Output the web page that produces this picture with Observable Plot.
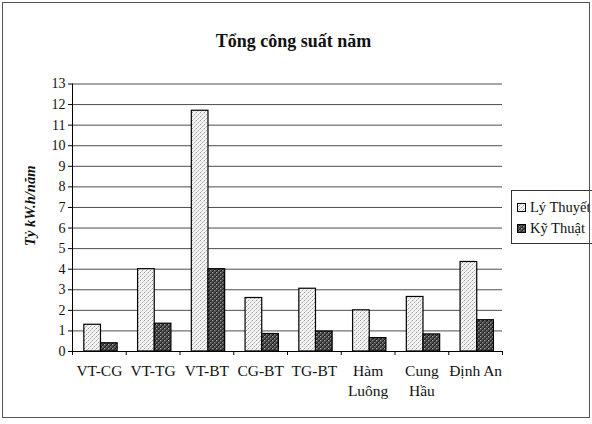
<!DOCTYPE html>
<html>
<head>
<meta charset="utf-8">
<script src="https://cdn.jsdelivr.net/npm/d3@7"></script>
<script src="https://cdn.jsdelivr.net/npm/@observablehq/plot@0.6"></script>
<style>
  html, body { margin: 0; padding: 0; background: #fff; }
  #wrap { position: relative; width: 592px; height: 424px; overflow: hidden; font-family: "Liberation Serif", serif; }
  #border { position: absolute; left: 2px; top: 2px; width: 586px; height: 414px; border: 1px solid #555; pointer-events: none; }
  #chart { position: absolute; left: 0; top: 0; }
  #legend { position: absolute; left: 511px; top: 190px; width: 100px; height: 52px; border: 1px solid #333; background: #fff; font-size: 14.5px; color: #111; }
  .item { position: absolute; left: 5px; white-space: nowrap; display: flex; align-items: center; height: 16px; }
  .item svg { margin-right: 4px; }
</style>
</head>
<body>
<svg width="0" height="0" style="position:absolute">
  <defs>
    <pattern id="lightPat" width="4" height="4" patternUnits="userSpaceOnUse">
      <rect width="4" height="4" fill="#f3f3f3"/>
      <rect x="0" y="0" width="1" height="1" fill="#9a9a9a"/>
      <rect x="2" y="2" width="1" height="1" fill="#a8a8a8"/>
      <rect x="3" y="1" width="1" height="1" fill="#cfcfcf"/>
      <rect x="1" y="3" width="1" height="1" fill="#cfcfcf"/>
    </pattern>
    <pattern id="darkPat" width="4" height="4" patternUnits="userSpaceOnUse">
      <rect width="4" height="4" fill="#5a5a5a"/>
      <path d="M0,4 L4,0 M-1,1 L1,-1 M3,5 L5,3" stroke="#1e1e1e" stroke-width="1.2"/>
      <rect x="0" y="0" width="1" height="1" fill="#a8a8a8"/>
      <rect x="2" y="2" width="1" height="1" fill="#8a8a8a"/>
    </pattern>
  </defs>
</svg>
<div id="wrap">
  <div id="chart"></div>
  <div id="legend">
    <div class="item" style="top:8px"><svg width="9" height="9"><rect x="0.5" y="0.5" width="8" height="8" fill="url(#lightPat)" stroke="#000"/></svg><span>Lý Thuyết</span></div>
    <div class="item" style="top:29px"><svg width="9" height="9"><rect x="0.5" y="0.5" width="8" height="8" fill="url(#darkPat)" stroke="#000"/></svg><span>Kỹ Thuật</span></div>
  </div>
  <div id="border"></div>
</div>
<script>
const title = "Tổng công suất năm";
const yLabel = "Tỷ kW.h/năm";
const categories = ["VT-CG", "VT-TG", "VT-BT", "CG-BT", "TG-BT", "Hàm\nLuông", "Cung\nHầu", "Định An"];
const seriesNames = ["Lý Thuyết", "Kỹ Thuật"];
const lyThuyet = [1.3, 4.0, 11.7, 2.6, 3.05, 2.0, 2.65, 4.35];
const kyThuat = [0.4, 1.35, 4.0, 0.85, 0.97, 0.65, 0.83, 1.52];
const yTicks = [0, 1, 2, 3, 4, 5, 6, 7, 8, 9, 10, 11, 12, 13];

const rowsL = categories.map((c, i) => ({i, cat: c, value: lyThuyet[i]}));
const rowsK = categories.map((c, i) => ({i, cat: c, value: kyThuat[i]}));

const chart = Plot.plot({
  width: 592,
  height: 424,
  marginLeft: 72,
  marginRight: 90,
  marginTop: 83.5,
  marginBottom: 73,
  x: {domain: [0, categories.length], axis: null},
  y: {domain: [0, 13], axis: null},
  style: {fontFamily: "'Liberation Serif', serif", fontSize: "14px", background: "transparent", color: "#111"},
  marks: [
    Plot.gridY(yTicks, {stroke: "#3a3a3a", strokeOpacity: 0.9}),
    Plot.axisY({ticks: yTicks, tickSize: 4, tickPadding: 3, tickFormat: d => String(d), label: null, stroke: "#000", fontSize: 14}),
    Plot.axisX({ticks: d3.range(0, categories.length + 1), tickSize: 4, tickFormat: () => "", label: null, stroke: "#000"}),
    Plot.axisX({ticks: categories.map((_, i) => i + 0.5), tickSize: 0, tickPadding: 10, lineHeight: 1.3, fontSize: 15.5,
                tickFormat: d => categories[Math.floor(d)], label: null}),
    Plot.rectY(rowsL, {x1: d => d.i + 0.22, x2: d => d.i + 0.53, y: "value", fill: "url(#lightPat)", stroke: "#000", strokeWidth: 1.2}),
    Plot.rectY(rowsK, {x1: d => d.i + 0.53, x2: d => d.i + 0.84, y: "value", fill: "url(#darkPat)", stroke: "#000", strokeWidth: 1.2}),
    Plot.ruleX([0], {stroke: "#000"}),
    Plot.ruleY([0], {stroke: "#000"}),
    Plot.text([title], {frameAnchor: "top", dy: -50, dx: 6, fontWeight: "bold", fontSize: 18, fill: "#111"}),
    Plot.text([yLabel], {frameAnchor: "left", textAnchor: "middle", rotate: -90, dx: -42, dy: -12, fontStyle: "italic", fontWeight: "bold", fontSize: 14.5, fill: "#111"})
  ]
});
document.getElementById("chart").appendChild(chart);
</script>
</body>
</html>
